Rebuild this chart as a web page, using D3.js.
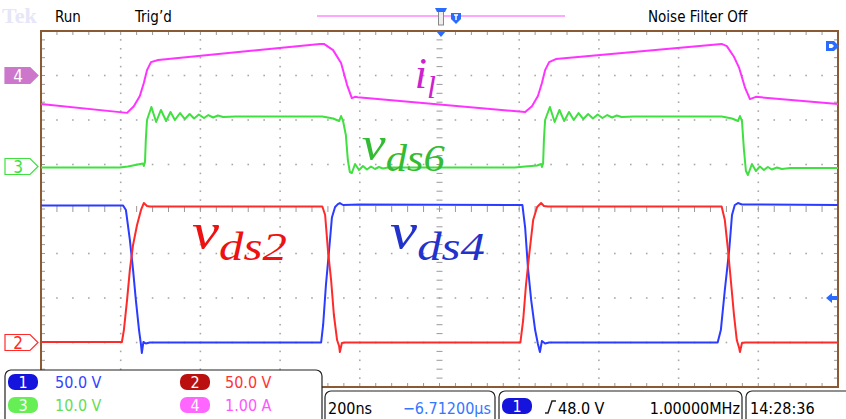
<!DOCTYPE html>
<html>
<head>
<meta charset="utf-8">
<script src="https://cdn.jsdelivr.net/npm/d3@7"></script>
<style>
  body { margin: 0; background: #fff; }
  svg { display: block; }
  .ui { font-family: "Liberation Sans Narrow", "DejaVu Sans Condensed", sans-serif; }
  .lbl { font-family: "Liberation Serif", "DejaVu Serif", serif; font-style: italic; }
</style>
</head>
<body>
<svg id="scope" width="846" height="419"></svg>
<script>
// time in ns (10 div x 200 ns), values in volts / amps
var ch1 = [[0,153.9],[206,153.9],[213,148.9],[223,115.2],[231,81.5],[238,47.8],[246,14.0],[251,-2.8],[253,-11.8],[257,0.6],[263,-1.1],[273,0],
  [703,0],[708,19.7],[715,64.6],[723,103.9],[730,140.4],[738,152.2],[745,155.5],[750,156.7],[758,154.5],[800,155.1],
  [1208,154.5],[1215,128.7],[1222,83.7],[1230,47.8],[1240,14.0],[1247,-1.7],[1252,-10.7],[1257,1.7],[1265,-1.1],[1275,0],
  [1698,0],[1706,14.0],[1716,59.0],[1727,103.9],[1734,143.3],[1741,154.5],[1749,156.7],[1759,155.1],[2000,154.5]];

var ch2 = [[0,0.6],[203,0.6],[208,14.0],[216,47.8],[223,81.5],[231,109.6],[241,132.0],[251,148.9],[258,156.7],[266,153.4],[273,152.8],
  [706,152.8],[713,143.3],[720,103.9],[728,70.2],[735,30.9],[743,2.8],[748,-3.9],[750,-10.7],[755,-0.6],[763,0],
  [1203,0],[1210,25.3],[1217,64.6],[1225,98.3],[1235,137.6],[1245,152.2],[1255,156.7],[1262,153.4],[1272,152.8],
  [1708,152.8],[1716,137.6],[1724,103.9],[1731,70.2],[1739,30.9],[1746,2.8],[1752,-6.2],[1754,-10.7],[1759,-0.6],[1767,0],[2000,0]];

var ch3 = [[0,-0.22],[198,-0.22],[218,0],[243,0.45],[256,0.67],[258,0.11],[261,1.01],[263,5.96],[266,10.45],[277,13.37],[289,10.00],[301,12.70],
  [314,10.22],[325,12.25],[336,10.45],[349,12.02],[361,10.67],[373,11.80],[384,10.79],[396,11.68],[409,10.90],[420,11.57],[432,11.01],
  [444,11.46],[457,11.12],[487,11.24],[706,11.24],[733,10.79],[748,10.22],[753,11.35],[758,10.22],[765,7.08],[770,1.46],[775,-1.24],
  [780,-1.46],[788,0.56],[798,-0.79],[808,0.11],[818,-0.67],[828,0],[838,-0.56],[848,-0.11],[858,-0.45],[871,-0.22],
  [1189,-0.22],[1215,0],[1245,0.22],[1255,0.56],[1257,-0.11],[1260,0.67],[1262,5.96],[1265,10.45],[1277,13.37],[1289,10.00],[1301,12.70],
  [1313,10.22],[1325,12.25],[1337,10.45],[1349,12.02],[1361,10.67],[1373,11.80],[1385,10.79],[1397,11.68],[1409,10.90],[1421,11.57],
  [1433,11.01],[1445,11.46],[1457,11.12],[1487,11.24],[1708,11.24],[1734,10.79],[1749,10.22],[1754,11.35],[1759,10.22],[1764,3.71],
  [1769,-1.01],[1774,-1.91],[1784,0.56],[1794,-1.01],[1804,0],[1814,-0.79],[1824,-0.11],[1834,-0.67],[1847,-0.22],[1859,-0.56],
  [1880,-0.34],[2000,-0.34]];

var ch4 = [[0,-0.64],[216,-0.84],[233,-0.69],[248,-0.46],[258,-0.17],[266,0.12],[276,0.30],[294,0.35],[700,0.71],[710,0.71],
  [733,0.57],[753,0.28],[768,-0.21],[780,-0.51],[788,-0.48],[795,-0.49],[1215,-0.82],[1232,-0.69],[1247,-0.46],[1257,-0.17],
  [1265,0.12],[1275,0.30],[1292,0.37],[1708,0.71],[1721,0.66],[1739,0.42],[1752,0.17],[1767,-0.28],[1779,-0.53],[1794,-0.48],[2000,-0.64]];

// per channel: units per division and ground offset (div)
var chScale = [50, 50, 10, 1];
var chOffset = [-3, -3, 0.955, 3];
var chColor = ["#2a3cff", "#ff2a2a", "#3fe03f", "#ff33ff"];
var chLabel = ["50.0 V", "50.0 V", "10.0 V", "1.00 A"];
var timebase = "200ns", hpos = "\u22126.71200\u00b5s", trigLevel = "48.0 V", trigFreq = "1.00000MHz", clock = "14:28:36";

var svg = d3.select("#scope");
var x = d3.scaleLinear().domain([0, 2000]).range([41, 838]);
var y = d3.scaleLinear().domain([-4, 4]).range([387, 31]);

// header
svg.append("text").attr("x", 2).attr("y", 23).attr("fill", "#e6e6f8")
  .style("font-family", "Liberation Serif, serif").style("font-size", "22px").style("font-weight", "bold").text("Tek");
var hdr = [["Run", 55], ["Trig\u2019d", 135], ["Noise Filter Off", 648]];
hdr.forEach(function(h) {
  svg.append("text").attr("class", "ui").attr("x", h[1]).attr("y", 22).style("font-size", "15px").text(h[0]);
});
svg.append("line").attr("x1", 317).attr("x2", 565).attr("y1", 16).attr("y2", 16)
  .attr("stroke", "#ff88ff").attr("stroke-width", 1.5);
svg.append("rect").attr("x", 438.5).attr("y", 11).attr("width", 5).attr("height", 14)
  .attr("fill", "#eee").attr("stroke", "#888");
svg.append("path").attr("d", "M435,8 h12 l-2,4 h-8 z").attr("fill", "#2a6cff");
svg.append("path").attr("d", "M451,13 h10 v6 l-5,5 l-5,-5 z").attr("fill", "#2a6cff");
svg.append("path").attr("d", "M454,15 h4 M456,15 v5").attr("stroke", "#fff").attr("stroke-width", 1.5);

// grid dots
var g = svg.append("g");
var dots = [];
d3.range(1, 10).forEach(function(k) {
  if (k === 5) return;
  d3.range(-20, 21).forEach(function(j) { dots.push([x(k * 200), y(j / 5)]); });
});
d3.range(-3, 4).forEach(function(m) {
  if (m === 0) return;
  d3.range(0, 51).forEach(function(i) { dots.push([x(i * 40), y(m)]); });
});
g.selectAll(".dot").data(dots).enter().append("rect")
  .attr("x", function(d) { return d[0] - 0.8; }).attr("y", function(d) { return d[1] - 0.8; })
  .attr("width", 1.6).attr("height", 1.6).attr("fill", "#a8a8a8");

// centre cross ticks
d3.range(-20, 21).forEach(function(j) {
  g.append("line").attr("x1", x(1000) - 3).attr("x2", x(1000) + 3).attr("y1", y(j / 5)).attr("y2", y(j / 5))
    .attr("stroke", "#999").attr("stroke-width", 1);
});
d3.range(0, 51).forEach(function(i) {
  g.append("line").attr("x1", x(i * 40)).attr("x2", x(i * 40)).attr("y1", y(0) - 3).attr("y2", y(0) + 3)
    .attr("stroke", "#999").attr("stroke-width", 1);
});
// frame ticks
d3.range(0, 51).forEach(function(i) {
  g.append("line").attr("x1", x(i * 40)).attr("x2", x(i * 40)).attr("y1", y(4)).attr("y2", y(4) + 4).attr("stroke", "#999");
  g.append("line").attr("x1", x(i * 40)).attr("x2", x(i * 40)).attr("y1", y(-4)).attr("y2", y(-4) - 4).attr("stroke", "#999");
});
d3.range(-20, 21).forEach(function(j) {
  g.append("line").attr("x1", x(0)).attr("x2", x(0) + 4).attr("y1", y(j / 5)).attr("y2", y(j / 5)).attr("stroke", "#999");
  g.append("line").attr("x1", x(2000)).attr("x2", x(2000) - 4).attr("y1", y(j / 5)).attr("y2", y(j / 5)).attr("stroke", "#999");
});
svg.append("rect").attr("x", x(0)).attr("y", y(4)).attr("width", x(2000) - x(0)).attr("height", y(-4) - y(4))
  .attr("fill", "none").attr("stroke", "#8b5a32").attr("stroke-width", 2);

// traces
var series = [ch4, ch3, ch1, ch2];
var order = [3, 2, 0, 1];
series.forEach(function(s, n) {
  var c = order[n];
  svg.append("path").datum(s)
    .attr("fill", "none").attr("stroke", chColor[c]).attr("stroke-width", 2).attr("stroke-linejoin", "round")
    .attr("d", d3.line()
      .x(function(d) { return x(d[0]); })
      .y(function(d) { return y(chOffset[c] + d[1] / chScale[c]); }));
});

// channel ground markers
function marker(c, filled) {
  var yy = y(chOffset[c]);
  svg.append("path").attr("d", "M5," + (yy - 8) + " h25 l8,8 l-8,8 h-25 z")
    .attr("fill", filled ? "#cc77cc" : "#fff").attr("stroke", filled ? "#cc77cc" : chColor[c]).attr("stroke-width", 1.2);
  svg.append("text").attr("class", "ui").attr("x", 18).attr("y", yy + 6).attr("text-anchor", "middle")
    .attr("fill", filled ? "#fff" : chColor[c]).style("font-size", "17px").text(c + 1);
}
marker(3, true);
marker(2, false);
marker(1, false);

// right side markers
svg.append("path").attr("d", "M826,41 h8 l5,5 l-5,5 h-8 z").attr("fill", "#2a6cff");
svg.append("path").attr("d", "M829,44 h3 l2,2 l-2,2 h-3 z").attr("fill", "#fff");
svg.append("path").attr("d", "M826," + y(-2) + " l6,-5 v3 h6 v4 h-6 v3 z").attr("fill", "#2a6cff");
svg.append("path").attr("d", "M436,31 h10 l-5,6 z").attr("fill", "#2a6cff");

// trace labels
function label(t, dv, main, sub, col, fs, sfs, sx) {
  var tx = svg.append("text").attr("class", "lbl").attr("fill", col)
    .attr("transform", "translate(" + x(t) + "," + y(dv) + ") scale(" + sx + ",1)");
  tx.append("tspan").style("font-size", fs + "px").text(main);
  tx.append("tspan").style("font-size", sfs + "px").attr("dy", sfs * 0.3).text(sub);
}
label(938, 2.72, "i", "l", "#cc22cc", 44, 32, 1);
label(805, 1.10, "v", "ds6", "#33bb33", 48, 38, 1.12);
label(379, -0.88, "v", "ds2", "#ee1111", 50, 40, 1.22);
label(876, -0.88, "v", "ds4", "#2233cc", 50, 40, 1.22);

// bottom readouts
function box(bx, by, bw, bh) {
  svg.append("rect").attr("x", bx).attr("y", by).attr("width", bw).attr("height", bh).attr("rx", 6)
    .attr("fill", "#fff").attr("stroke", "#222").attr("stroke-width", 1.2);
}
function badge(bx, by, col, txt) {
  svg.append("rect").attr("x", bx).attr("y", by).attr("width", 30).attr("height", 16).attr("rx", 7).attr("fill", col);
  svg.append("text").attr("class", "ui").attr("x", bx + 15).attr("y", by + 14).attr("text-anchor", "middle")
    .attr("fill", "#fff").style("font-size", "16px").text(txt);
}
box(5, 370, 317, 55);
var badgeCol = ["#1414dd", "#bb1010", "#66ee55", "#ff66ff"];
var txtCol = ["#3344ff", "#ff3333", "#66dd55", "#ff55ff"];
[[8, 374, 55], [180, 374, 225], [8, 397, 55], [180, 397, 225]].forEach(function(p, c) {
  badge(p[0], p[1], badgeCol[c], c + 1);
  svg.append("text").attr("class", "ui").attr("x", p[2]).attr("y", p[1] + 14).attr("fill", txtCol[c])
    .style("font-size", "16px").text(chLabel[c]);
});
box(325, 391, 170, 35);
svg.append("text").attr("class", "ui").attr("x", 328).attr("y", 414).style("font-size", "16px").text(timebase);
svg.append("text").attr("class", "ui").attr("x", 491).attr("y", 414).attr("text-anchor", "end").attr("fill", "#3377ff")
  .style("font-size", "16px").text(hpos);
box(499, 391, 243, 35);
badge(502, 398, "#1414dd", 1);
svg.append("path").attr("d", "M545,413 h3 l4,-12 h4").attr("fill", "none").attr("stroke", "#222").attr("stroke-width", 1.5);
svg.append("text").attr("class", "ui").attr("x", 558).attr("y", 414).style("font-size", "16px").text(trigLevel);
svg.append("text").attr("class", "ui").attr("x", 740).attr("y", 414).attr("text-anchor", "end").style("font-size", "16px").text(trigFreq);
box(746, 391, 110, 35);
svg.append("text").attr("class", "ui").attr("x", 750).attr("y", 414).style("font-size", "16px").text(clock);
</script>
</body>
</html>
